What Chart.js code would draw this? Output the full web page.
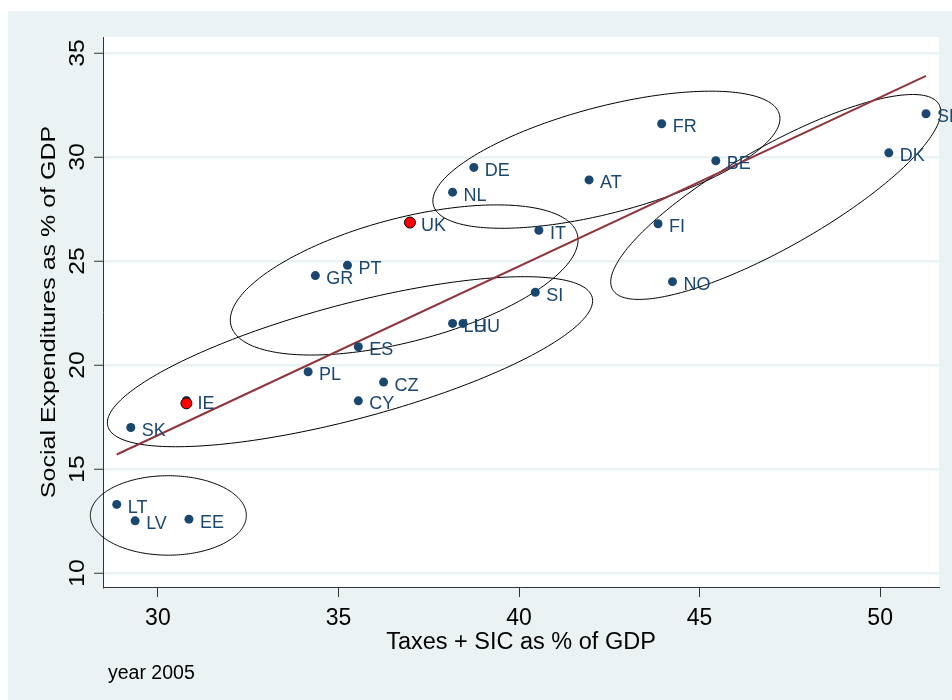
<!DOCTYPE html>
<html>
<head>
<meta charset="utf-8">
<title>Taxes and social expenditures, 2005</title>
<script src="https://cdn.jsdelivr.net/npm/chart.js@4/dist/chart.umd.min.js"></script>
<style>
  html, body { margin: 0; padding: 0; background: #ffffff; }
  canvas { display: block; }
</style>
</head>
<body>
<canvas id="chart" width="952" height="700" style="width:952px;height:700px"></canvas>
<script>
// Country codes and their values (% of GDP, 2005)
const countries = ['SE','DK','BE','FR','AT','DE','NL','UK','IT','FI','NO','PT','GR','SI','LU','HU','ES','PL','CZ','CY','IE','SK','LT','LV','EE'];
const taxesSIC  = [51.27, 50.24, 45.45, 43.95, 41.94, 38.75, 38.16, 36.98, 40.55, 43.85, 44.25, 35.25, 34.36, 40.45, 38.16, 38.45, 35.55, 34.16, 36.25, 35.55, 30.79, 29.25, 28.86, 29.37, 30.86];
const socialExp = [32.08, 30.20, 29.82, 31.60, 28.90, 29.50, 28.31, 26.85, 26.48, 26.79, 24.01, 24.80, 24.30, 23.50, 22.00, 22.00, 20.88, 19.68, 19.18, 18.28, 18.30, 17.00, 13.30, 12.51, 12.59];

// Highlighted countries
const highlightX = [36.98, 30.79];
const highlightY = [26.85, 18.16];

// Linear fit, end points
const fitX = [28.86, 51.27];
const fitY = [15.70, 33.90];

// Country groups: centre and two conjugate semi-axes, in data units
const ellipseCx = [30.29, 35.32, 36.82, 42.42, 47.11];
const ellipseCy = [12.77, 20.16, 24.09, 29.87, 28.08];
const ellipseAx = [2.16, 6.706, 4.795, 4.791, 4.518];
const ellipseAy = [0.00, 3.099, 2.192, 2.180, 4.453];
const ellipseBx = [0.00, 0.408, 0.434, 0.373, 0.688];
const ellipseBy = [-1.91, -2.665, -2.867, -2.472, -2.105];

// Axis ranges and ticks
const xMin = 28.48, xMax = 51.63, xStep = 5;
const yMin = 9.33,  yMax = 35.77, yStep = 5;

const FONT = '"Liberation Sans", Arial, Helvetica, sans-serif';
const NAVY = '#1A476F';
const MAROON = '#90353B';
const BG = '#EAF2F3';

const backgroundPlugin = {
  id: 'backgrounds',
  beforeDraw(chart) {
    const { ctx, chartArea: a } = chart;
    ctx.save();
    ctx.fillStyle = '#ffffff';
    ctx.fillRect(0, 0, chart.width, chart.height);
    ctx.fillStyle = BG;
    ctx.fillRect(8, 11, chart.width - 8, chart.height - 11);
    ctx.fillStyle = '#ffffff';
    ctx.fillRect(a.left, a.top, a.right - a.left, a.bottom - a.top);
    ctx.restore();
  }
};

const ellipsePlugin = {
  id: 'groupEllipses',
  beforeDatasetsDraw(chart) {
    const { ctx } = chart;
    const xs = chart.scales.x, ys = chart.scales.y;
    ctx.save();
    ctx.strokeStyle = '#000000';
    ctx.lineWidth = 1;
    for (let k = 0; k < ellipseCx.length; k++) {
      ctx.beginPath();
      const n = 240;
      for (let i = 0; i <= n; i++) {
        const t = (i / n) * Math.PI * 2;
        const vx = ellipseCx[k] + ellipseAx[k] * Math.cos(t) + ellipseBx[k] * Math.sin(t);
        const vy = ellipseCy[k] + ellipseAy[k] * Math.cos(t) + ellipseBy[k] * Math.sin(t);
        const px = xs.getPixelForValue(vx), py = ys.getPixelForValue(vy);
        if (i === 0) ctx.moveTo(px, py); else ctx.lineTo(px, py);
      }
      ctx.closePath();
      ctx.stroke();
    }
    ctx.restore();
  }
};

const textPlugin = {
  id: 'texts',
  afterDraw(chart) {
    const { ctx, chartArea: a } = chart;
    const xs = chart.scales.x, ys = chart.scales.y;
    ctx.save();

    // marker labels
    ctx.fillStyle = NAVY;
    ctx.font = '18px ' + FONT;
    ctx.textAlign = 'left';
    ctx.textBaseline = 'alphabetic';
    countries.forEach((c, i) => {
      const px = xs.getPixelForValue(taxesSIC[i]);
      const py = ys.getPixelForValue(socialExp[i]);
      ctx.fillText(c, px + 11, py + 8.5);
    });

    ctx.fillStyle = '#000000';

    // x tick labels
    ctx.font = '23px ' + FONT;
    ctx.textAlign = 'center';
    xs.ticks.forEach(t => {
      ctx.fillText(String(t.value), xs.getPixelForValue(t.value), 625);
    });

    // y tick labels, rotated
    ctx.font = '22px ' + FONT;
    ys.ticks.forEach(t => {
      ctx.save();
      ctx.translate(83.5, ys.getPixelForValue(t.value));
      ctx.rotate(-Math.PI / 2);
      ctx.scale(1.13, 1);
      ctx.fillText(String(t.value), 0, 0);
      ctx.restore();
    });

    // axis titles
    ctx.font = '23.5px ' + FONT;
    ctx.fillText('Taxes + SIC as % of GDP', (a.left + a.right) / 2, 648.5);

    ctx.save();
    ctx.font = '21px ' + FONT;
    ctx.translate(55, (a.top + a.bottom) / 2);
    ctx.rotate(-Math.PI / 2);
    ctx.scale(1.19, 1);
    ctx.fillText('Social Expenditures as % of GDP', 0, 0);
    ctx.restore();

    // note
    ctx.font = '19.5px ' + FONT;
    ctx.textAlign = 'left';
    ctx.fillText('year 2005', 108, 678.5);

    ctx.restore();
  }
};

new Chart(document.getElementById('chart'), {
  type: 'scatter',
  data: {
    datasets: [
      {
        label: 'Fitted values',
        type: 'line',
        data: fitX.map((x, i) => ({ x, y: fitY[i] })),
        borderColor: MAROON,
        borderWidth: 2,
        pointRadius: 0,
        fill: false,
        order: 3
      },
      {
        label: 'Countries',
        data: taxesSIC.map((x, i) => ({ x, y: socialExp[i] })),
        backgroundColor: NAVY,
        borderWidth: 0,
        pointRadius: 4.5,
        order: 2
      },
      {
        label: 'Highlighted',
        data: highlightX.map((x, i) => ({ x, y: highlightY[i] })),
        backgroundColor: '#FF0000',
        borderColor: '#000000',
        borderWidth: 1,
        pointRadius: 5.5,
        order: 1
      }
    ]
  },
  options: {
    responsive: false,
    animation: false,
    devicePixelRatio: 1,
    layout: { padding: { top: 37, right: 13, bottom: 0, left: 0 } },
    plugins: {
      legend: { display: false },
      tooltip: { enabled: false }
    },
    scales: {
      x: {
        type: 'linear',
        min: xMin,
        max: xMax,
        ticks: { display: false, stepSize: xStep, includeBounds: false },
        grid: { drawOnChartArea: false, drawTicks: true, tickLength: 10, tickColor: '#333333', tickWidth: 1 },
        border: { display: true, color: '#333333', width: 1 },
        afterFit(s) { s.height = 113; }
      },
      y: {
        type: 'linear',
        min: yMin,
        max: yMax,
        ticks: { display: false, stepSize: yStep, includeBounds: false },
        grid: { color: BG, lineWidth: 2.5, drawTicks: true, tickLength: 9, tickColor: '#333333', tickWidth: 1 },
        border: { display: true, color: '#333333', width: 1 },
        afterFit(s) { s.width = 103; }
      }
    }
  },
  plugins: [backgroundPlugin, ellipsePlugin, textPlugin]
});
</script>
</body>
</html>
